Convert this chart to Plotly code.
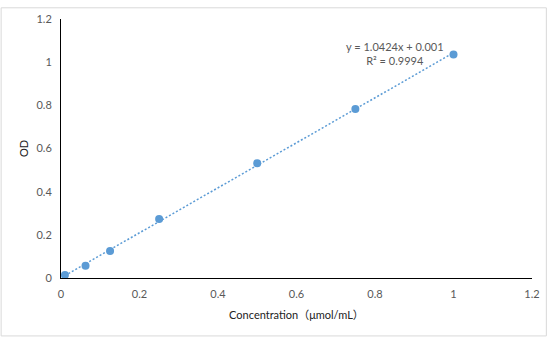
import plotly.graph_objects as go

conc = [0.01, 0.0625, 0.125, 0.25, 0.5, 0.75, 1.0]
od = [0.014, 0.057, 0.125, 0.273, 0.532, 0.783, 1.036]
slope = 1.0424
intercept = 0.001
eq_text = "y = 1.0424x + 0.001"
r2_text = "R² = 0.9994"
x_ticks = [0, 0.2, 0.4, 0.6, 0.8, 1, 1.2]
y_ticks = [0, 0.2, 0.4, 0.6, 0.8, 1, 1.2]

color = "#5B9BD5"
txt = "#595959"
font = "Lato, 'Noto Sans CJK SC', sans-serif"

trend_x = [min(conc), max(conc)]
trend_y = [slope * v + intercept for v in trend_x]

fig = go.Figure()
fig.add_trace(go.Scatter(x=trend_x, y=trend_y, mode="lines",
                         line=dict(color=color, width=1.5, dash="2px,2px"),
                         hoverinfo="skip", showlegend=False))
fig.add_trace(go.Scatter(x=conc, y=od, mode="markers",
                         marker=dict(color=color, size=8),
                         showlegend=False))

L, R, T, B = 61, 15, 12, 60
W, H = 552, 338
pw, ph = W - L - R, H - T - B

fig.update_layout(
    width=W, height=H,
    margin=dict(l=L, r=R, t=T, b=B),
    paper_bgcolor="white", plot_bgcolor="white",
    font=dict(family=font, size=11, color=txt),
    xaxis=dict(range=[0, 1.2], tickvals=x_ticks, ticktext=[f"{v:g}" for v in x_ticks],
               showgrid=False, zeroline=False, showline=True, linecolor="black", linewidth=1,
               ticks="", ticklen=0, ticklabelstandoff=6,
               title=dict(text="Concentration（μmol/mL）", font=dict(size=11, color="#222222"), standoff=12)),
    yaxis=dict(range=[0, 1.2], tickvals=y_ticks, ticktext=[f"{v:g}" for v in y_ticks],
               showgrid=False, zeroline=False, showline=True, linecolor="black", linewidth=1,
               ticks="", ticklen=0, ticklabelstandoff=6,
               title=dict(text="OD", font=dict(size=11, color="#222222"), standoff=5)),
    annotations=[
        dict(x=0.852, y=1.04, xref="x", yref="y", text=eq_text + "<br>" + r2_text,
             showarrow=False, font=dict(size=11, color=txt), align="center",
             xanchor="center", yanchor="middle")
    ],
    shapes=[dict(type="rect", xref="paper", yref="paper", layer="below",
                 x0=-(L - 0.5) / pw, x1=1 + (R - 0.5) / pw,
                 y0=-(B - 0.5) / ph, y1=1 + (T - 0.5) / ph,
                 line=dict(color="#D9D9D9", width=1))],
)
fig.write_html("out.html")
